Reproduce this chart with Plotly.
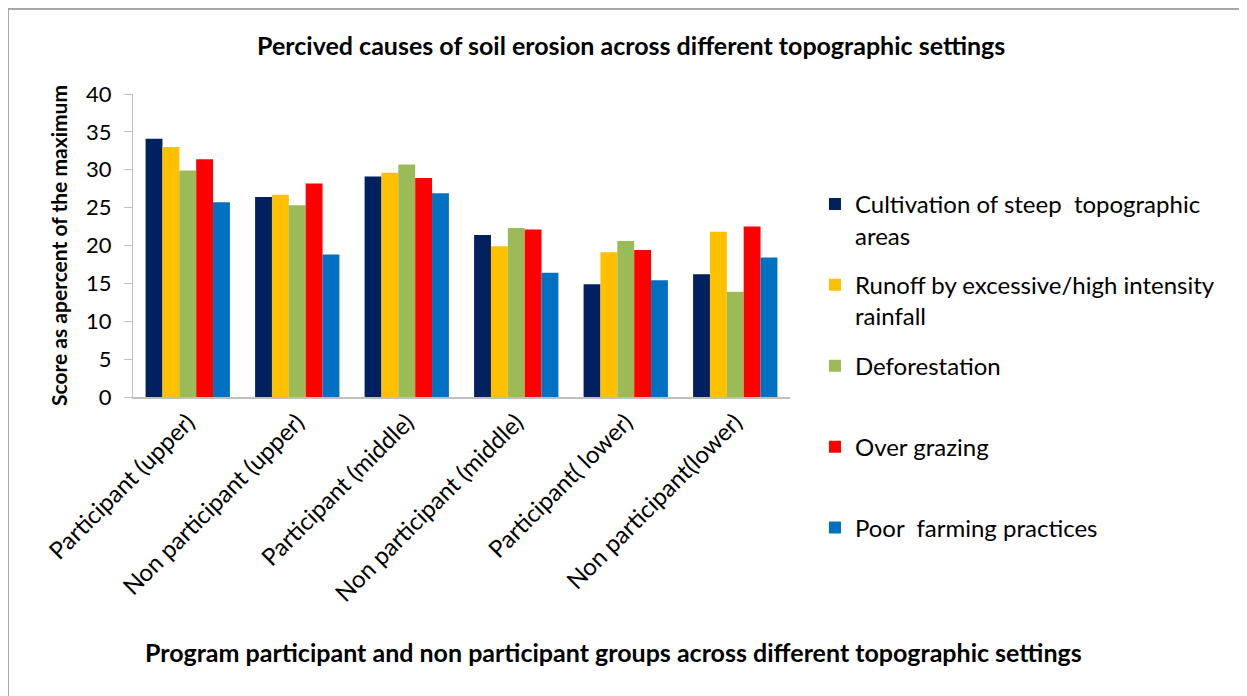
import plotly.graph_objects as go

categories = ["Participant (upper)", "Non participant (upper)", "Participant (middle)",
              "Non participant (middle)", "Participant( lower)", "Non participant(lower)"]
series_names = ["Cultivation of steep  topographic<br>areas",
                "Runoff by excessive/high intensity<br>rainfall",
                "Deforestation<br> ",
                "Over grazing<br> ",
                "Poor  farming practices<br> "]
cultivation = [34.1, 26.4, 29.1, 21.4, 14.9, 16.2]
runoff = [33.0, 26.7, 29.6, 19.9, 19.1, 21.8]
deforestation = [29.9, 25.3, 30.7, 22.3, 20.6, 13.9]
over_grazing = [31.4, 28.2, 28.9, 22.1, 19.4, 22.5]
poor_farming = [25.7, 18.8, 26.9, 16.4, 15.4, 18.4]
colors = ["#002060", "#FFC000", "#9BBB59", "#FF0000", "#0070C0"]

FONT = "Lato"
fig = go.Figure()
for i, (name, vals, c) in enumerate(zip(series_names,
                                        [cultivation, runoff, deforestation, over_grazing, poor_farming],
                                        colors)):
    fig.add_trace(go.Bar(x=categories, y=vals, name=name, legendgroup=f"g{i}",
                         marker=dict(color=c, line=dict(width=0))))

fig.update_layout(
    width=1239, height=688,
    margin=dict(l=125, r=457, t=86, b=299),
    paper_bgcolor="white", plot_bgcolor="white",
    barmode="group", bargap=0.23, bargroupgap=0,
    font=dict(family=FONT, color="black"),
    title=dict(text="<b>Percived causes of soil erosion across different topographic settings</b>",
               x=0.503, xanchor="center", y=0.945, yanchor="middle",
               font=dict(size=25, family=FONT)),
    legend=dict(x=1.038, xanchor="left", y=0.71, yanchor="top",
                font=dict(size=24, family=FONT), valign="top",
                tracegroupgap=15.5, itemsizing="constant", maxheight=650),
    showlegend=True,
    annotations=[dict(text="<b>Program participant and non participant groups across different topographic settings</b>",
                      xref="paper", yref="paper", x=0.7306, y=-0.8416, xanchor="center", yanchor="middle",
                      showarrow=False, font=dict(size=25, family=FONT))],
)
fig.update_yaxes(range=[0, 40], dtick=5, showgrid=False, showline=True, linecolor="#bfbfbf",
                 linewidth=1, ticks="outside", ticklen=8, tickcolor="#bfbfbf",
                 ticklabelstandoff=8,
                 tickfont=dict(size=22, family=FONT), zeroline=False,
                 title=dict(text="<b>Score as apercent of the maximum</b>", font=dict(size=21, family=FONT),
                            standoff=12))
fig.update_xaxes(showgrid=False, showline=True, linecolor="#bfbfbf", linewidth=1.5,
                 tickangle=-45, tickfont=dict(size=24, family=FONT))
fig.add_shape(type="rect", xref="paper", yref="paper", x0=-0.1903, x1=1.6925, y0=-1.5, y1=1.2805,
              line=dict(color="#a6a6a6", width=2), fillcolor="rgba(0,0,0,0)", layer="below")
fig.write_html("out.html")
